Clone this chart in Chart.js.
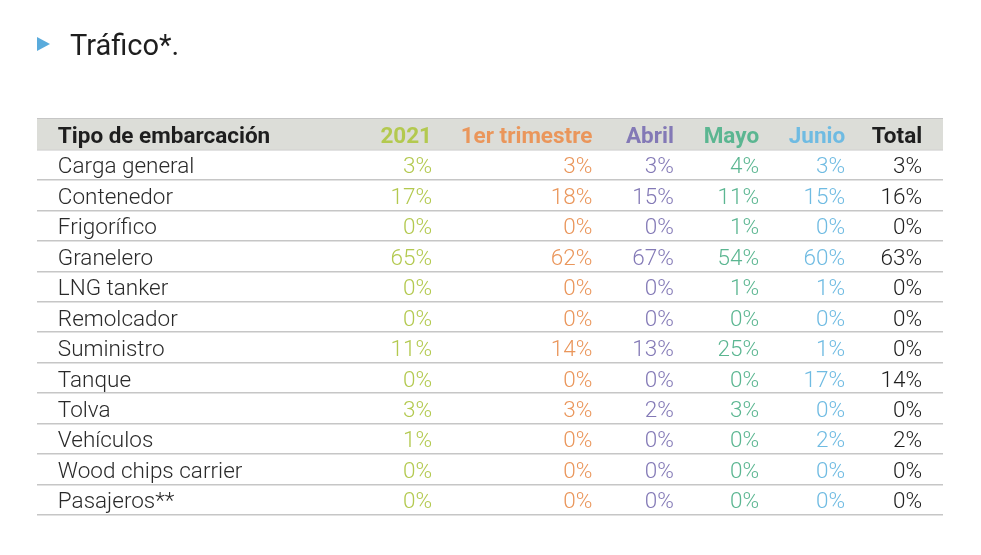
<!DOCTYPE html>
<html>
<head>
<meta charset="utf-8">
<script src="https://cdn.jsdelivr.net/npm/chart.js@4.4.1/dist/chart.umd.min.js"></script>
<style>
  html, body { margin: 0; padding: 0; background: #fff; }
  #wrap { width: 981px; height: 555px; }
</style>
</head>
<body>
<div id="wrap"><canvas id="tbl" width="981" height="555"></canvas></div>
<script>
// ========= DATA ========= //
const title = "Tráfico*.";
const firstHeader = "Tipo de embarcación";
const rowNames = [
  "Carga general", "Contenedor", "Frigorífico", "Granelero", "LNG tanker",
  "Remolcador", "Suministro", "Tanque", "Tolva", "Vehículos",
  "Wood chips carrier", "Pasajeros**"
];
const columnNames = ["2021", "1er trimestre", "Abril", "Mayo", "Junio", "Total"];

const v2021      = [3, 17, 0, 65, 0, 0, 11, 0, 3, 1, 0, 0];
const vTrimestre = [3, 18, 0, 62, 0, 0, 14, 0, 3, 0, 0, 0];
const vAbril     = [3, 15, 0, 67, 0, 0, 13, 0, 2, 0, 0, 0];
const vMayo      = [4, 11, 1, 54, 1, 0, 25, 0, 3, 0, 0, 0];
const vJunio     = [3, 15, 0, 60, 1, 0, 1, 17, 0, 2, 0, 0];
const vTotal     = [3, 16, 0, 63, 0, 0, 0, 14, 0, 2, 0, 0];
const seriesValues = [v2021, vTrimestre, vAbril, vMayo, vJunio, vTotal];

// ========= STYLE / LAYOUT ========= //
const colColors = ["#b3c94f", "#ea965b", "#8379b6", "#5bb691", "#6fbbe2", "#1e1e1e"];
const labelAnchor = 2.3;                       // x-scale units (0..100)
const colAnchors = [43.6, 61.3, 70.3, 79.7, 89.2, 97.7];
const headerBg = "#dcddd8";
const lineColor = "#c6c6c6";

const yLabels = [firstHeader].concat(rowNames);

// ========= TABLE PLUGIN ========= //
const tablePlugin = {
  id: "tableText",
  afterDatasetsDraw(chart) {
    const ctx = chart.ctx;
    const xs = chart.scales.x;
    const ys = chart.scales.y;
    ctx.save();
    ctx.textBaseline = "middle";

    // header row
    const hy = ys.getPixelForValue(0) + 3;
    ctx.font = "bold 22.5px Roboto";
    ctx.textAlign = "left";
    ctx.fillStyle = "#1e1e1e";
    ctx.fillText(firstHeader, xs.getPixelForValue(labelAnchor), hy);
    ctx.textAlign = "right";
    columnNames.forEach((c, i) => {
      ctx.fillStyle = colColors[i];
      ctx.fillText(c, xs.getPixelForValue(colAnchors[i]), hy);
    });

    // body rows
    ctx.font = "300 22.5px Roboto";
    rowNames.forEach((r, ri) => {
      const y = ys.getPixelForValue(ri + 1) + 3;
      ctx.textAlign = "left";
      ctx.fillStyle = "#2a2a2a";
      ctx.fillText(r, xs.getPixelForValue(labelAnchor), y);
      ctx.textAlign = "right";
      seriesValues.forEach((vals, ci) => {
        ctx.fillStyle = colColors[ci];
        ctx.fillText(vals[ri] + "%", xs.getPixelForValue(colAnchors[ci]), y);
      });
    });

    // title with marker
    ctx.fillStyle = "#5aabdc";
    ctx.beginPath();
    ctx.moveTo(37, 37);
    ctx.lineTo(50, 44);
    ctx.lineTo(37, 51);
    ctx.closePath();
    ctx.fill();
    ctx.textAlign = "left";
    ctx.textBaseline = "alphabetic";
    ctx.fillStyle = "#1e1e1e";
    ctx.font = "29px Roboto";
    ctx.fillText(title, 70, 55);
    ctx.restore();
  }
};

// header band as a full-width bar on the first row
const headerBand = yLabels.map((_, i) => (i === 0 ? 100 : null));

new Chart(document.getElementById("tbl"), {
  type: "bar",
  data: {
    labels: yLabels,
    datasets: [{
      data: headerBand,
      backgroundColor: headerBg,
      barPercentage: 1,
      categoryPercentage: 1
    }]
  },
  options: {
    indexAxis: "y",
    responsive: false,
    animation: false,
    events: [],
    layout: { padding: { left: 37, right: 38, top: 119, bottom: 40 } },
    plugins: { legend: { display: false }, tooltip: { enabled: false }, title: { display: false } },
    scales: {
      x: { display: false, min: 0, max: 100 },
      y: {
        display: true,
        offset: true,
        ticks: { display: false },
        border: { display: false },
        grid: { offset: true, drawTicks: false, color: lineColor, lineWidth: 1.5 },
        afterFit(s) { s.width = 0; }
      }
    }
  },
  plugins: [tablePlugin]
});
</script>
</body>
</html>
